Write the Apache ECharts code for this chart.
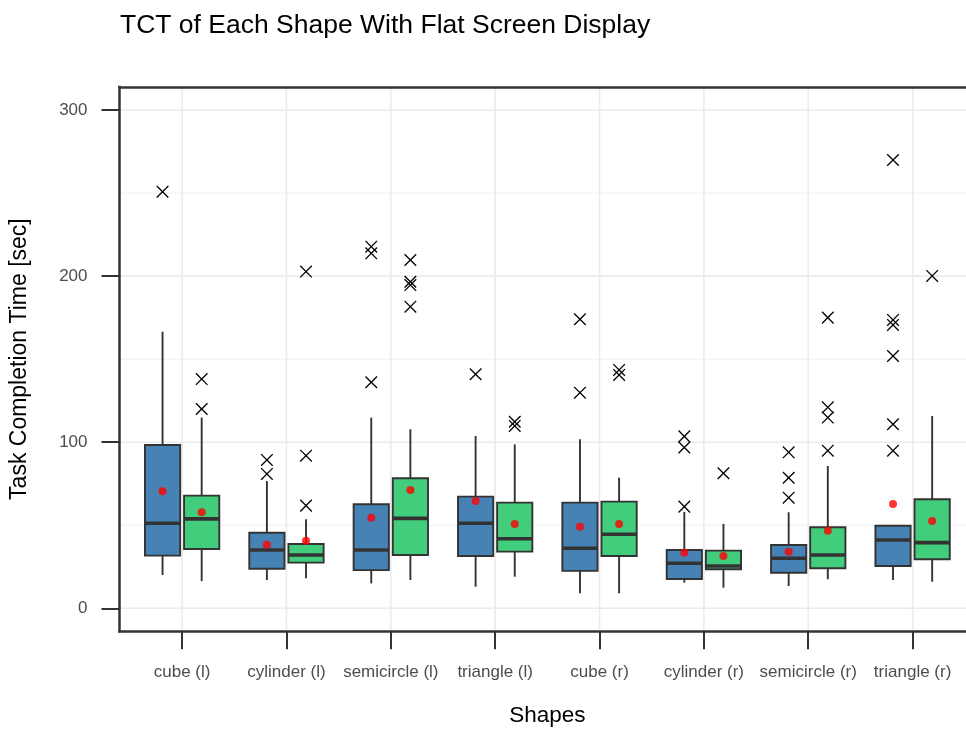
<!DOCTYPE html>
<html>
<head>
<meta charset="utf-8">
<title>TCT of Each Shape With Flat Screen Display</title>
<script src="https://cdn.jsdelivr.net/npm/echarts@6/dist/echarts.min.js"></script>
<style>
  html, body { margin: 0; padding: 0; background: #ffffff; }
  #chart { width: 966px; height: 729px; }
</style>
</head>
<body>
<div id="chart"></div>
<script>
// Shapes on the horizontal axis
const categories = ['cube (l)', 'cylinder (l)', 'semicircle (l)', 'triangle (l)',
                    'cube (r)', 'cylinder (r)', 'semicircle (r)', 'triangle (r)'];

// Box summaries per shape: [lower whisker, Q1, median, Q3, upper whisker]
const boxesBlue = [
  [20.0, 31.7, 51.2, 98.3, 166.5],
  [17.0, 23.8, 35.1, 45.5, 76.6],
  [15.0, 23.0, 35.1, 62.6, 114.8],
  [13.0, 31.5, 51.2, 67.2, 103.7],
  [9.0, 22.5, 36.1, 63.6, 101.7],
  [15.4, 17.6, 27.1, 35.1, 58.0],
  [13.4, 21.4, 30.1, 38.1, 57.8],
  [17.0, 25.5, 41.1, 49.7, 49.7]
];
const boxesGreen = [
  [16.4, 35.7, 53.8, 67.8, 114.8],
  [18.1, 27.5, 32.1, 38.7, 53.6],
  [17.0, 32.1, 54.1, 78.3, 107.8],
  [19.0, 34.1, 41.9, 63.6, 98.7],
  [9.0, 31.5, 44.6, 64.2, 78.6],
  [12.4, 23.5, 25.5, 34.7, 50.8],
  [17.5, 24.1, 32.1, 48.8, 85.7],
  [16.0, 29.5, 39.5, 65.6, 115.8]
];

// Mean task completion time per shape
const meansBlue  = [70.4, 38.3, 54.5, 64.6, 49.1, 33.5, 34.1, 62.8];
const meansGreen = [57.8, 40.7, 71.2, 50.8, 50.8, 31.5, 46.7, 52.6];

// Outlying observations per shape
const outliersBlue = [
  [250.8],
  [89.3, 80.9],
  [217.7, 213.7, 136.1],
  [140.9],
  [174.0, 129.8],
  [103.5, 96.8, 61.2],
  [93.9, 78.6, 66.6],
  [269.9, 173.6, 170.6, 151.9, 110.8, 94.9]
];
const outliersGreen = [
  [138.0, 120.0],
  [202.7, 91.9, 61.8],
  [209.7, 196.6, 194.6, 181.6],
  [112.3, 109.8],
  [143.5, 140.5],
  [81.3],
  [175.0, 121.0, 114.8, 94.9],
  [200.1]
];

// Axis ticks and grid lines
const yTicks = [0, 100, 200, 300];
const yMinor = [50, 150, 250];

// Layout / style constants
const X_MIN = -0.6, X_MAX = 7.6;
const Y_MIN = -13.8, Y_MAX = 313.85;
const DODGE = 0.1875;
const BOX_W = 0.3375;
const BLUE = '#4682B4';
const GREEN = '#41CD7B';
const INK = '#333333';
const FONT = 'Liberation Sans, Arial, sans-serif';

function boxData(boxes, offset) {
  return boxes.map((b, i) => [i + offset].concat(b));
}
function pointData(values, offset) {
  return values.map((v, i) => [i + offset, v]);
}
function outlierData(groups, offset) {
  const out = [];
  groups.forEach((vals, i) => vals.forEach(v => out.push([i + offset, v])));
  return out;
}

function makeBoxRenderer(fill) {
  return function (params, api) {
    const x = api.value(0);
    const pLo = api.coord([x, api.value(1)]);
    const pQ1 = api.coord([x, api.value(2)]);
    const pMed = api.coord([x, api.value(3)]);
    const pQ3 = api.coord([x, api.value(4)]);
    const pHi = api.coord([x, api.value(5)]);
    const half = api.size([BOX_W, 0])[0] / 2;
    const stroke = { stroke: INK, lineWidth: 1.9 };
    return {
      type: 'group',
      children: [
        { type: 'line', shape: { x1: pQ1[0], y1: pQ1[1], x2: pLo[0], y2: pLo[1] }, style: stroke },
        { type: 'line', shape: { x1: pQ3[0], y1: pQ3[1], x2: pHi[0], y2: pHi[1] }, style: stroke },
        { type: 'rect', shape: { x: pQ3[0] - half, y: pQ3[1], width: 2 * half, height: pQ1[1] - pQ3[1] },
          style: { fill: fill, stroke: INK, lineWidth: 1.9 } },
        { type: 'line', shape: { x1: pMed[0] - half, y1: pMed[1], x2: pMed[0] + half, y2: pMed[1] },
          style: { stroke: INK, lineWidth: 3.6 } }
      ]
    };
  };
}

function renderCross(params, api) {
  const p = api.coord([api.value(0), api.value(1)]);
  const r = 5.8;
  const st = { stroke: '#000000', lineWidth: 1.3 };
  return {
    type: 'group',
    children: [
      { type: 'line', shape: { x1: p[0] - r, y1: p[1] - r, x2: p[0] + r, y2: p[1] + r }, style: st },
      { type: 'line', shape: { x1: p[0] - r, y1: p[1] + r, x2: p[0] + r, y2: p[1] - r }, style: st }
    ]
  };
}

// Panel grid lines: [orientation, value, isMajor]
const gridLineData = []
  .concat(categories.map((c, i) => ['v', i, 1]))
  .concat(yMinor.map(v => ['h', v, 0]))
  .concat(yTicks.map(v => ['h', v, 1]));

function renderGridLine(params, api) {
  const item = gridLineData[params.dataIndex];
  const v = item[1];
  let a, b;
  if (item[0] === 'v') { a = api.coord([v, Y_MIN]); b = api.coord([v, Y_MAX]); }
  else { a = api.coord([X_MIN, v]); b = api.coord([X_MAX, v]); }
  return {
    type: 'line',
    shape: { x1: a[0], y1: a[1], x2: b[0], y2: b[1] },
    style: { stroke: '#EBEBEB', lineWidth: item[2] ? 1.6 : 0.8 }
  };
}

const chart = echarts.init(document.getElementById('chart'), null, { renderer: 'canvas' });

const frameLine = { show: true, onZero: false, lineStyle: { color: INK, width: 2.5, cap: 'square' } };

chart.setOption({
  animation: false,
  backgroundColor: '#ffffff',
  title: {
    text: 'TCT of Each Shape With Flat Screen Display',
    left: 115,
    top: 7,
    textStyle: { fontFamily: FONT, fontSize: 26.5, fontWeight: 'normal', color: '#000000' }
  },
  grid: { left: 119.5, top: 87, width: 855.7, height: 544.2, show: false, outerBoundsMode: 'none', containLabel: false },
  xAxis: [
    {
      type: 'value', min: X_MIN, max: X_MAX, position: 'bottom', z: 5,
      name: 'Shapes', nameLocation: 'middle', nameGap: 73,
      nameTextStyle: { fontFamily: FONT, fontSize: 22.5, color: '#000000' },
      axisLine: frameLine,
      axisTick: { show: true, length: 18, customValues: categories.map((c, i) => i),
                  lineStyle: { color: INK, width: 2 } },
      axisLabel: { show: true, margin: 33, customValues: categories.map((c, i) => i),
                   formatter: v => categories[Math.round(v)] || '',
                   fontFamily: FONT, fontSize: 17, color: '#4D4D4D' },
      splitLine: { show: false }
    },
    {
      type: 'value', min: X_MIN, max: X_MAX, position: 'top', z: 5,
      axisLine: frameLine, axisTick: { show: false }, axisLabel: { show: false },
      splitLine: { show: false }
    }
  ],
  yAxis: [
    {
      type: 'value', min: Y_MIN, max: Y_MAX, position: 'left', z: 5,
      name: 'Task Completion Time [sec]', nameLocation: 'middle', nameGap: 88,
      nameTextStyle: { fontFamily: FONT, fontSize: 23, color: '#000000' },
      axisLine: frameLine,
      axisTick: { show: true, length: 18, customValues: yTicks, lineStyle: { color: INK, width: 2 } },
      axisLabel: { show: true, margin: 32, customValues: yTicks,
                   fontFamily: FONT, fontSize: 17, color: '#4D4D4D' },
      splitLine: { show: false }
    },
    {
      type: 'value', min: Y_MIN, max: Y_MAX, position: 'right', z: 5,
      axisLine: frameLine, axisTick: { show: false }, axisLabel: { show: false },
      splitLine: { show: false }
    }
  ],
  series: [
    {
      name: 'gridlines', type: 'custom', silent: true, z: 1,
      renderItem: renderGridLine,
      data: gridLineData.map((g, i) => [i]),
      encode: { x: 0 }
    },
    {
      name: 'boxBlue', type: 'custom', silent: true, z: 2,
      renderItem: makeBoxRenderer(BLUE),
      data: boxData(boxesBlue, -DODGE),
      encode: { x: 0, y: [1, 2, 3, 4, 5] }
    },
    {
      name: 'boxGreen', type: 'custom', silent: true, z: 2,
      renderItem: makeBoxRenderer(GREEN),
      data: boxData(boxesGreen, DODGE),
      encode: { x: 0, y: [1, 2, 3, 4, 5] }
    },
    {
      name: 'meanBlue', type: 'scatter', silent: true, z: 3,
      symbol: 'circle', symbolSize: 8,
      itemStyle: { color: '#FF0000' },
      data: pointData(meansBlue, -DODGE)
    },
    {
      name: 'meanGreen', type: 'scatter', silent: true, z: 3,
      symbol: 'circle', symbolSize: 8,
      itemStyle: { color: '#FF0000' },
      data: pointData(meansGreen, DODGE)
    },
    {
      name: 'outlierBlue', type: 'custom', silent: true, z: 4,
      renderItem: renderCross,
      data: outlierData(outliersBlue, -DODGE),
      encode: { x: 0, y: 1 }
    },
    {
      name: 'outlierGreen', type: 'custom', silent: true, z: 4,
      renderItem: renderCross,
      data: outlierData(outliersGreen, DODGE),
      encode: { x: 0, y: 1 }
    }
  ]
});
</script>
</body>
</html>
